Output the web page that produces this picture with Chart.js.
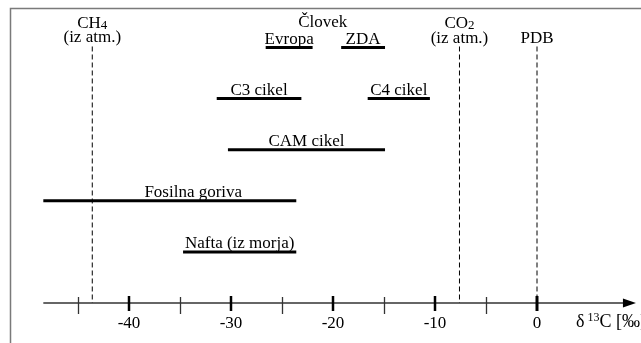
<!DOCTYPE html>
<html>
<head>
<meta charset="utf-8">
<script src="https://cdn.jsdelivr.net/npm/chart.js@4/dist/chart.umd.min.js"></script>
<style>
  html, body { margin: 0; padding: 0; background: #fff; }
  canvas { display: block; }
</style>
</head>
<body>
<canvas id="chart" width="641" height="343"></canvas>
<script>
// δ13C ranges (per mil), one row per group
const rangeLabels = ['Evropa', 'ZDA', 'C3 cikel', 'C4 cikel', 'CAM cikel', 'Fosilna goriva', 'Nafta (iz morja)']
const rangeStart  = [-26.6, -19.2, -31.4, -16.6, -30.3, -48.4, -34.7]
const rangeEnd    = [-22.0, -14.9, -23.1, -10.5, -14.9, -23.6, -23.6]
const rangeRow    = [5, 5, 4, 4, 3, 2, 1]

// reference values (dashed lines)
const refLabels = ['CH4', 'CO2', 'PDB']
const refValues = [-43.6, -7.6, 0]

// axis ticks
const minorTicks = [-45, -35, -25, -15, -5]
const majorTicks = [-40, -30, -20, -10, 0]
const axisStart = -48.4
const axisEnd = 9.7

const FONT = "'Liberation Serif', 'DejaVu Serif', serif"

const datasets = []
rangeLabels.forEach((label, i) => {
  datasets.push({
    label,
    data: [{ x: rangeStart[i], y: rangeRow[i] }, { x: rangeEnd[i], y: rangeRow[i] }],
    borderColor: '#000',
    borderWidth: 3,
    borderCapStyle: 'butt',
    showLine: true,
    pointRadius: 0,
    clip: false
  })
})
refLabels.forEach((label, i) => {
  datasets.push({
    label,
    data: [{ x: refValues[i], y: 5.02 }, { x: refValues[i], y: 0 }],
    borderColor: '#000',
    borderWidth: 1,
    borderDash: [5, 3],
    showLine: true,
    pointRadius: 0,
    clip: false
  })
})

// axis with ticks, arrow, frame and all labels
const annotate = {
  id: 'annotate',
  beforeDraw(chart) {
    const c = chart.ctx
    c.save()
    c.strokeStyle = '#7a7a7a'
    c.lineWidth = 1.5
    c.beginPath()
    c.moveTo(10.5, 343)
    c.lineTo(10.5, 8.5)
    c.lineTo(641, 8.5)
    c.stroke()
    c.restore()
  },
  afterDatasetsDraw(chart) {
    const c = chart.ctx
    const xs = chart.scales.x
    const ys = chart.scales.y
    const y0 = ys.getPixelForValue(0)
    c.save()
    c.strokeStyle = '#000'
    c.fillStyle = '#000'

    // axis line
    const xa = xs.getPixelForValue(axisStart)
    const xb = xs.getPixelForValue(axisEnd)
    c.strokeStyle = '#333'
    c.lineWidth = 1.3
    c.beginPath()
    c.moveTo(xa, y0)
    c.lineTo(xb - 8, y0)
    c.stroke()
    c.beginPath()
    c.moveTo(xb, y0)
    c.lineTo(xb - 13, y0 - 4.5)
    c.lineTo(xb - 13, y0 + 4.5)
    c.closePath()
    c.fill()

    minorTicks.forEach(v => {
      const px = Math.round(xs.getPixelForValue(v)) + 0.5
      c.lineWidth = 1.3
      c.beginPath()
      c.moveTo(px, y0 - 6)
      c.lineTo(px, y0 + 11)
      c.stroke()
    })
    c.strokeStyle = '#000'
    majorTicks.forEach(v => {
      const px = Math.round(xs.getPixelForValue(v))
      c.lineWidth = v === 0 ? 3 : 2.5
      c.beginPath()
      c.moveTo(px, y0 - 7)
      c.lineTo(px, y0 + 8)
      c.stroke()
    })

    c.font = '17px ' + FONT
    c.textAlign = 'center'
    c.textBaseline = 'middle'
    majorTicks.forEach(v => {
      c.fillText(String(v), xs.getPixelForValue(v), y0 + 21)
    })

    // range labels, sitting on their bars
    c.font = '17px ' + FONT
    c.textBaseline = 'alphabetic'
    rangeLabels.forEach((label, i) => {
      let cx = (rangeStart[i] + rangeEnd[i]) / 2
      if (label === 'Fosilna goriva') cx = -33.7
      c.fillText(label, xs.getPixelForValue(cx), ys.getPixelForValue(rangeRow[i]) - 4)
    })
    c.fillText('Človek', xs.getPixelForValue(-21), ys.getPixelForValue(5) - 21)

    // reference labels with subscripts
    const sub = (base, s, cx, cy) => {
      c.font = '17px ' + FONT
      const w1 = c.measureText(base).width
      c.font = '13px ' + FONT
      const w2 = c.measureText(s).width
      const left = cx - (w1 + w2) / 2
      c.textAlign = 'left'
      c.font = '17px ' + FONT
      c.fillText(base, left, cy)
      c.font = '13px ' + FONT
      c.fillText(s, left + w1, cy + 1)
      c.textAlign = 'center'
    }
    const top = ys.getPixelForValue(5)
    sub('CH', '4', xs.getPixelForValue(refValues[0]), top - 20)
    c.font = '17px ' + FONT
    c.fillText('(iz atm.)', xs.getPixelForValue(refValues[0]), top - 6)
    sub('CO', '2', xs.getPixelForValue(refValues[1]), top - 20)
    c.font = '17px ' + FONT
    c.fillText('(iz atm.)', xs.getPixelForValue(refValues[1]), top - 5)
    c.fillText('PDB', xs.getPixelForValue(refValues[2]), top - 5)

    // axis title: δ 13C [‰] (runs off the right edge, as in the source)
    c.textAlign = 'left'
    let tx = 576
    const ty = y0 + 24
    c.font = '18px ' + FONT
    c.fillText('δ', tx, ty)
    tx += c.measureText('δ').width + 3
    c.font = '12px ' + FONT
    c.fillText('13', tx, ty - 6)
    tx += c.measureText('13').width
    c.font = '18px ' + FONT
    c.fillText('C [‰]', tx, ty)
    c.restore()
  }
}

new Chart(document.getElementById('chart'), {
  type: 'scatter',
  data: { datasets },
  options: {
    responsive: false,
    animation: false,
    layout: { padding: { left: 27, right: 2, top: 47.5, bottom: 40 } },
    plugins: { legend: { display: false }, tooltip: { enabled: false } },
    scales: {
      x: { type: 'linear', min: -50, max: 10, display: false },
      y: { type: 'linear', min: 0, max: 5, display: false }
    }
  },
  plugins: [annotate]
})
</script>
</body>
</html>
